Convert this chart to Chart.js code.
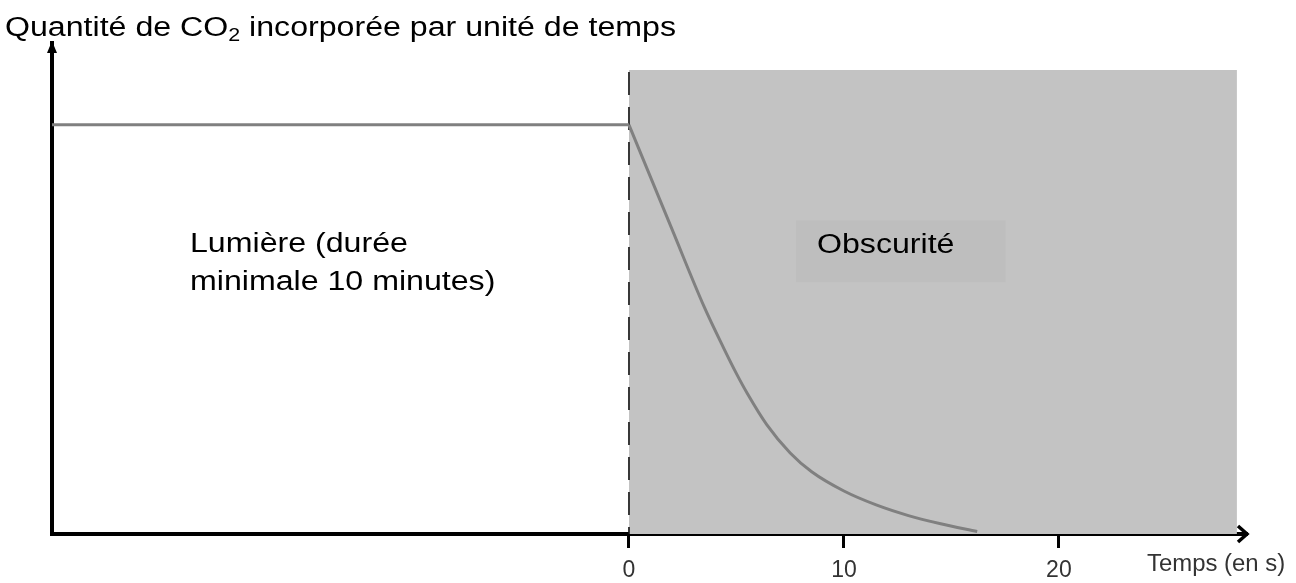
<!DOCTYPE html>
<html>
<head>
<meta charset="utf-8">
<script src="https://cdn.jsdelivr.net/npm/chart.js@4.4.0/dist/chart.umd.min.js"></script>
<style>
  html, body { margin: 0; padding: 0; background: #fff; }
  #wrap { width: 1296px; height: 583px; }
</style>
</head>
<body>
<div id="wrap"><canvas id="chart" width="1296" height="583"></canvas></div>
<script>
// Time axis (seconds) and the CO2 uptake values
const X_MIN = -26.84;
const X_MAX = 28.75;
const Y_MAX = 120;
const tickValues = [0, 10, 20];

// light period: constant uptake
const lightX = [-26.84, 0];
const lightY = [100, 100];
// dark period: decay
const darkCurveX = [0, 2, 3.5, 4.4, 5, 5.5, 6.4, 7.5, 8.5, 10, 11.5, 13, 14.5, 16.2];
const darkCurveY = [100, 74.5, 55.5, 45.5, 39.2, 34.4, 26.8, 19.8, 15.2, 10.5, 7.1, 4.5, 2.5, 0.6];

// Dark period (shaded) and the little label box
const darkX = [0, 28.28];
const darkTop = 113.4;
const boxX = [7.77, 17.53];
const boxY = [61.5, 76.6];
const dashY = [112.9, 0];

const FONT = '"Liberation Sans", Arial, sans-serif';

function stretchText(ctx, text, x, y, size, sx) {
    ctx.save();
    ctx.translate(x, y);
    ctx.scale(sx, 1);
    ctx.font = size + 'px ' + FONT;
    ctx.fillText(text, 0, 0);
    const w = ctx.measureText(text).width * sx;
    ctx.restore();
    return w;
}

const labelsPlugin = {
    id: 'labels',
    afterDatasetsDraw(chart) {
        const ctx = chart.ctx;
        const xs = chart.scales.x;
        ctx.save();
        ctx.fillStyle = '#000';
        ctx.textBaseline = 'alphabetic';
        stretchText(ctx, 'Lumière (durée', 190, 252, 27, 1.19);
        stretchText(ctx, 'minimale 10 minutes)', 190, 290, 27, 1.19);
        stretchText(ctx, 'Obscurité', xs.getPixelForValue(boxX[0]) + 21, 253, 27, 1.19);
        ctx.restore();
    },
    afterDraw(chart) {
        const ctx = chart.ctx;
        const a = chart.chartArea;
        ctx.save();
        // title with subscript
        ctx.fillStyle = '#000';
        let x = 5;
        x += stretchText(ctx, 'Quantité de CO', x, 36, 27, 1.19);
        x += stretchText(ctx, '2', x, 41, 18, 1.19);
        stretchText(ctx, ' incorporée par unité de temps', x, 36, 27, 1.19);

        // x axis label
        ctx.fillStyle = '#333';
        stretchText(ctx, 'Temps (en s)', 1147, 571, 23, 1.04);

        // arrow heads
        ctx.strokeStyle = '#000';
        ctx.fillStyle = '#000';
        ctx.lineWidth = 3.5;
        ctx.beginPath();
        ctx.moveTo(a.right - 9, a.bottom - 8);
        ctx.lineTo(a.right, a.bottom);
        ctx.lineTo(a.right - 9, a.bottom + 8);
        ctx.stroke();
        ctx.beginPath();
        ctx.moveTo(a.left, a.top - 2);
        ctx.lineTo(a.left - 5, a.top + 10);
        ctx.lineTo(a.left + 5, a.top + 10);
        ctx.closePath();
        ctx.fill();
        ctx.restore();
    }
};

const pts = (xs, ys) => xs.map((v, i) => ({ x: v, y: ys[i] }));

new Chart(document.getElementById('chart').getContext('2d'), {
    type: 'line',
    data: {
        datasets: [
            {
                data: pts(lightX, lightY),
                borderColor: '#808080',
                borderWidth: 3,
                pointRadius: 0,
                fill: false
            },
            {
                data: pts(darkCurveX, darkCurveY),
                borderColor: '#808080',
                borderWidth: 3,
                pointRadius: 0,
                cubicInterpolationMode: 'monotone',
                fill: false
            },
            {
                data: pts([0, 0], dashY),
                borderColor: '#111',
                borderWidth: 1.6,
                borderDash: [23, 12],
                pointRadius: 0,
                fill: false
            },
            {
                data: pts(boxX, [boxY[1], boxY[1]]),
                borderWidth: 0,
                pointRadius: 0,
                backgroundColor: '#bebebe',
                fill: { value: boxY[0] }
            },
            {
                data: pts(darkX, [darkTop, darkTop]),
                borderWidth: 0,
                pointRadius: 0,
                backgroundColor: '#c3c3c3',
                fill: 'origin'
            }
        ]
    },
    options: {
        responsive: false,
        animation: false,
        layout: { padding: { top: 43, right: 49, left: 0, bottom: 0 } },
        plugins: { legend: { display: false }, tooltip: { enabled: false } },
        scales: {
            x: {
                type: 'linear',
                min: X_MIN,
                max: X_MAX,
                afterBuildTicks: s => { s.ticks = tickValues.map(v => ({ value: v })); },
                afterFit: s => { s.height = 49; },
                border: { display: true, color: '#000', width: 4 },
                grid: { display: true, drawOnChartArea: false, drawTicks: true, tickLength: 14, tickWidth: 3, tickColor: '#000' },
                ticks: { color: '#333', font: { family: FONT, size: 23 }, padding: 9, maxRotation: 0 }
            },
            y: {
                min: 0,
                max: Y_MAX,
                afterFit: s => { s.width = 52; },
                border: { display: true, color: '#000', width: 4 },
                grid: { display: false },
                ticks: { display: false }
            }
        }
    },
    plugins: [labelsPlugin]
});
</script>
</body>
</html>
